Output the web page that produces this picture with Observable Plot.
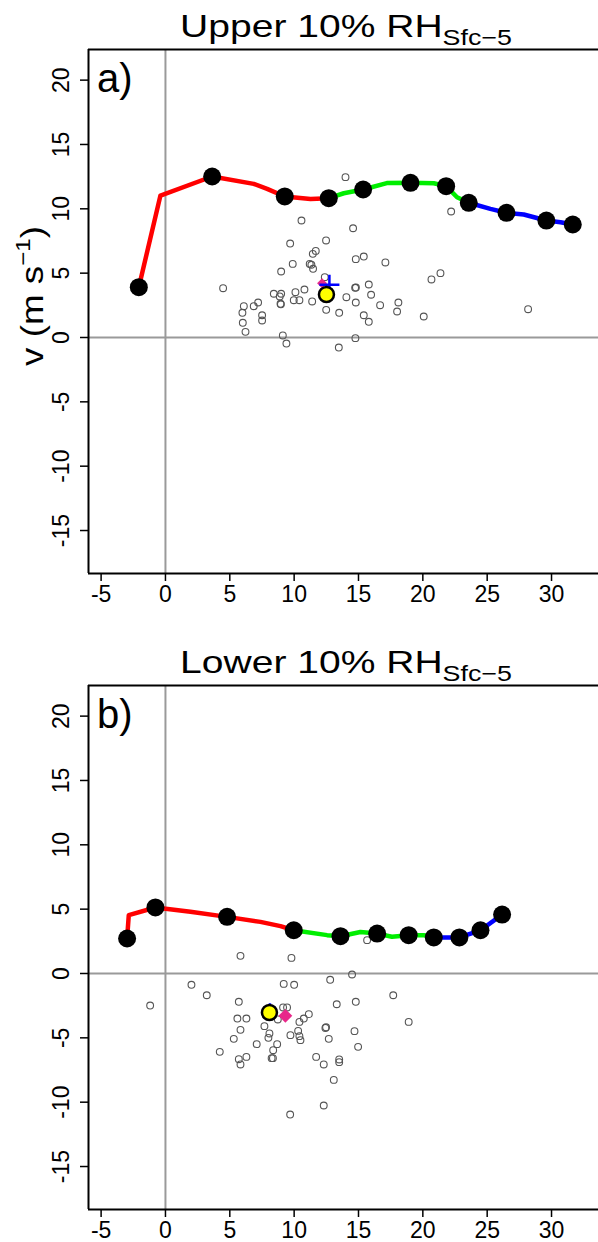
<!DOCTYPE html>
<html><head><meta charset="utf-8">
<script src="https://cdn.jsdelivr.net/npm/d3@7"></script>
<script src="https://cdn.jsdelivr.net/npm/@observablehq/plot@0.6"></script>
<style>
body{margin:0;background:#fff;}
#chart svg{display:block;}
</style></head><body><div id="chart"></div>
<script>
const FONT = "Liberation Sans, Arial, Helvetica, sans-serif";

// ---------- Panel a: upper 10% RH ----------
const aLineU     = [-2.07,-0.39,3.63,6.86,7.9,9.27,11.27,12.69, 12.69,13.86,15.36,17.2,19.04,20.85,21.81,22.66,23.57, 23.57,25.25,26.5,27.84,29.6,30.7,31.65];
const aLineV     = [3.91,11.03,12.51,11.94,11.55,10.96,10.77,10.83, 10.83,11.21,11.5,12.0,12.02,11.99,11.76,10.9,10.47, 10.47,10.0,9.69,9.56,9.09,8.96,8.78];
const aLineLayer = ["low","low","low","low","low","low","low","low", "mid","mid","mid","mid","mid","mid","mid","mid","mid", "high","high","high","high","high","high","high"];
const aDotU = [-2.07,3.63,9.27,12.69,15.36,19.04,21.81,23.57,26.5,29.6,31.65];
const aDotV = [3.91,12.51,10.96,10.83,11.5,12.02,11.76,10.47,9.69,9.09,8.78];
const aCaseU = [13.99,22.2,10.57,14.58,12.48,9.69,11.68,11.45,15.41,14.79,9.89,17.09,11.21,11.34,11.47,8.99,21.37,20.67,12.38,4.48,10.8,14.74,14.8,15.8,8.42,8.99,10.1,8.88,9.97,10.41,11.4,8.94,8.97,14.06,15.98,14.79,16.68,18.1,18.0,7.2,6.86,6.09,5.98,7.51,7.51,6.01,6.22,12.49,13.5,15.41,15.8,20.07,28.18,9.12,9.4,14.76,13.47];
const aCaseV = [12.46,9.79,9.09,8.49,7.54,7.30,6.73,6.50,6.29,6.09,5.72,5.83,5.72,5.65,5.34,5.13,5.0,4.51,4.69,3.83,3.73,3.86,3.88,4.12,3.40,3.40,3.52,3.19,2.90,2.90,2.80,2.62,2.58,3.13,3.32,2.72,2.51,2.72,2.02,2.72,2.43,2.43,1.92,1.73,1.32,1.14,0.44,2.15,1.92,1.73,1.22,1.63,2.2,0.16,-0.47,-0.05,-0.78];
const aMean = [12.51, 3.34];
const aPink = [12.17, 4.22];
const aBlue = [12.74, 4.09];

// ---------- Panel b: lower 10% RH ----------
const bLineU     = [-2.98,-2.85,-0.78,1.94,4.79,7.38,8.94,9.97, 9.97,12.56,13.6,15.15,16.45,17.6,18.9,20.07,20.85, 20.85,22.84,24.48,26.16];
const bLineV     = [2.72,4.53,5.13,4.79,4.4,4.01,3.68,3.36, 3.36,2.98,2.9,3.23,3.1,2.85,2.98,2.98,2.8, 2.8,2.8,3.36,4.58];
const bLineLayer = ["low","low","low","low","low","low","low","low", "mid","mid","mid","mid","mid","mid","mid","mid","mid", "high","high","high","high"];
const bDotU = [-2.98,-0.78,4.79,9.97,13.6,16.45,18.9,20.85,22.84,24.48,26.16];
const bDotV = [2.72,5.13,4.4,3.36,2.9,3.1,2.98,2.8,2.8,3.36,4.58];
const bCaseU = [5.83,9.79,15.67,14.5,2.02,9.19,10.0,12.8,17.7,3.21,-1.19,5.7,13.31,14.79,5.59,6.29,5.83,5.31,4.22,5.7,5.83,6.29,7.69,8.08,8.0,7.09,8.68,8.37,8.25,8.35,9.14,9.45,8.73,9.71,10.31,10.41,10.49,10.41,10.75,11.14,12.43,12.48,12.69,14.69,14.97,11.71,12.3,13.5,13.5,13.08,12.3,9.69,18.9];
const bCaseV = [1.37,1.21,2.59,-0.08,-0.88,-0.81,-0.88,-0.49,-1.69,-1.69,-2.49,-2.2,-2.39,-2.2,-3.5,-3.5,-4.38,-5.08,-6.09,-6.66,-7.07,-6.48,-4.09,-4.66,-5.0,-5.49,-5.49,-5.96,-6.58,-6.58,-2.64,-2.64,-3.57,-4.79,-4.46,-4.87,-5.18,-3.76,-3.5,-3.16,-4.23,-4.18,-5.08,-4.48,-5.7,-6.48,-7.07,-6.68,-6.89,-8.27,-10.26,-10.96,-3.76];
const bMean = [8.08, -3.03];
const bPink = [9.32, -3.29];
const bBlue = [8.12, -2.85];

// ---------- shared axes ----------
const xTicks = [-5, 0, 5, 10, 15, 20, 25, 30];
const yTicks = [-15, -10, -5, 0, 5, 10, 15, 20];
const layers = ["low", "mid", "high"];
const layerColors = ["#ff0000", "#00ee00", "#0000ff"];
const xDomain = [-5.98, 33.65];
const yDomain = [-18.34, 22.38];

function panel(cfg) {
  const line = cfg.lineU.map((u, i) => ({u, v: cfg.lineV[i], layer: cfg.lineLayer[i]}));
  const dots = cfg.dotU.map((u, i) => ({u, v: cfg.dotV[i]}));
  const cases = cfg.caseU.map((u, i) => ({u, v: cfg.caseV[i]}));
  const one = p => [{u: p[0], v: p[1]}];
  const svg = Plot.plot({
    width: 598,
    height: cfg.height,
    marginTop: 49,
    marginBottom: cfg.height - 49 - 524,
    marginLeft: 88,
    marginRight: 0,
    style: {fontFamily: FONT, fontSize: "23px", color: "black", background: "white"},
    x: {domain: xDomain},
    y: {domain: yDomain},
    color: {domain: layers, range: layerColors},
    marks: [
      Plot.ruleX([0], {stroke: "#9a9a9a", strokeWidth: 2}),
      Plot.ruleY([0], {stroke: "#9a9a9a", strokeWidth: 2}),
      Plot.ruleX([xDomain[0]], {stroke: "black", strokeWidth: 2}),
      Plot.ruleY(yDomain, {stroke: "black", strokeWidth: 2}),
      Plot.dot(cases, {x: "u", y: "v", r: 3.4, stroke: "#555", strokeWidth: 1.1, fill: "none"}),
      Plot.line(line, {x: "u", y: "v", z: "layer", stroke: "layer", strokeWidth: 4.5, curve: "linear"}),
      Plot.dot(dots, {x: "u", y: "v", r: 9, fill: "black"}),
      Plot.dot(one(cfg.pink), {x: "u", y: "v", symbol: "square", rotate: 45, r: cfg.pinkR, fill: "#e8288a"}),
      Plot.dot(one(cfg.blue), {x: "u", y: "v", symbol: "plus", r: cfg.blueR, stroke: "#0000ff", strokeWidth: 2.5}),
      Plot.dot(one(cfg.mean), {x: "u", y: "v", r: 7.5, fill: "#ffff00", stroke: "black", strokeWidth: 2.5}),
      Plot.axisX({ticks: xTicks, tickSize: 8, tickPadding: 4, tickFormat: d => String(d), strokeWidth: 1.5, label: null}),
      Plot.axisY({ticks: yTicks, tickSize: 8, tickPadding: 12, tickRotate: -90, tickFormat: d => String(d), strokeWidth: 1.5, label: null})
    ]
  });
  const s = d3.select(svg);
  // title with subscript
  const t = s.append("text")
    .attr("transform", "translate(346,36.5) scale(1.22,1)")
    .attr("text-anchor", "middle")
    .attr("font-family", FONT).attr("font-size", 32).attr("fill", "black");
  t.append("tspan").text(cfg.title);
  t.append("tspan").attr("font-size", 22).attr("dy", 8).text("Sfc\u22125");
  // panel letter
  s.append("text").attr("x", 97).attr("y", 92).attr("text-anchor", "start")
    .attr("font-family", FONT).attr("font-size", 40).attr("fill", "black").text(cfg.letter);
  if (cfg.ylabel) {
    const yl = s.append("text")
      .attr("transform", "translate(43,296) rotate(-90) scale(1.15,1)")
      .attr("text-anchor", "middle")
      .attr("font-family", FONT).attr("font-size", 32).attr("fill", "black");
    yl.append("tspan").text("v (m s");
    yl.append("tspan").attr("font-size", 21).attr("dy", -13).text("\u22121");
    yl.append("tspan").attr("dy", 13).text(")");
  }
  return svg;
}

const root = document.getElementById("chart");
root.appendChild(panel({
  height: 636, title: "Upper 10% RH", letter: "a)", ylabel: true,
  lineU: aLineU, lineV: aLineV, lineLayer: aLineLayer,
  dotU: aDotU, dotV: aDotV, caseU: aCaseU, caseV: aCaseV,
  mean: aMean, pink: aPink, blue: aBlue, pinkR: 4, blueR: 6.5
}));
root.appendChild(panel({
  height: 606, title: "Lower 10% RH", letter: "b)", ylabel: false,
  lineU: bLineU, lineV: bLineV, lineLayer: bLineLayer,
  dotU: bDotU, dotV: bDotV, caseU: bCaseU, caseV: bCaseV,
  mean: bMean, pink: bPink, blue: bBlue, pinkR: 5.5, blueR: 4.6
}));
</script></body></html>
